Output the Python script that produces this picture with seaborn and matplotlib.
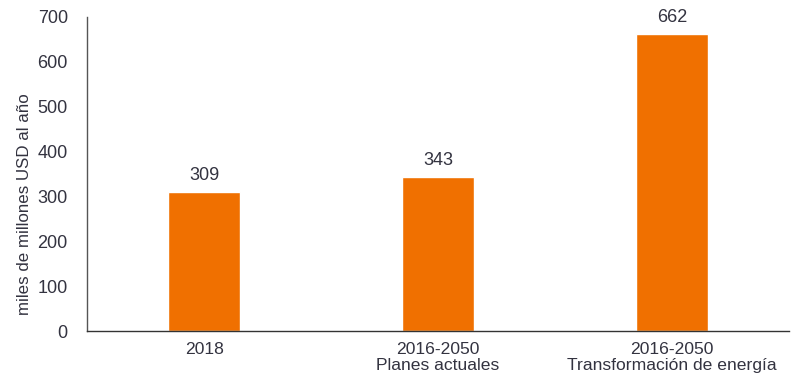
import matplotlib
matplotlib.use('Agg')
import matplotlib.pyplot as plt
import seaborn as sns
import pandas as pd

# datos del gráfico
categorias = ['2018', '2016-2050\nPlanes actuales', '2016-2050\nTransformación de energía']
valores = [309, 343, 662]
y_ticks = [0, 100, 200, 300, 400, 500, 600, 700]

COLOR_BAR = '#F07000'
COLOR_TEXT = '#333340'
FS = 13

sns.set_style('white')
plt.rcParams['font.family'] = ['Liberation Sans', 'DejaVu Sans']

df = pd.DataFrame({'cat': categorias, 'val': valores})

fig = plt.figure(figsize=(8, 3.82), dpi=100)
ax = fig.add_axes([0.109, 0.1335, 0.877, 0.822])
sns.barplot(data=df, x='cat', y='val', color=COLOR_BAR, width=0.31,
            saturation=1, ax=ax)

for p, v in zip(ax.patches, valores):
    ax.annotate(str(v), (p.get_x() + p.get_width() / 2, v),
                xytext=(0, 6), textcoords='offset points',
                ha='center', va='bottom', fontsize=FS, color=COLOR_TEXT)

ax.set_ylim(0, 700)
ax.set_yticks(y_ticks)
ax.set_xlim(-0.5, 2.5)
ax.set_xlabel('')
ax.set_ylabel('miles de millones USD al año', fontsize=12.2, color=COLOR_TEXT)
ax.yaxis.set_label_coords(-0.078, 0.404)
ax.tick_params(axis='both', labelsize=FS, colors=COLOR_TEXT, length=0)
ax.tick_params(axis='y', pad=14)
ax.tick_params(axis='x', pad=8)
ax.set_xticklabels(categorias, linespacing=1.1, fontsize=12.6)

for s in ['top', 'right']:
    ax.spines[s].set_visible(False)
ax.spines['left'].set_color('#555555')
ax.spines['bottom'].set_color('#333333')
ax.spines['left'].set_linewidth(1)
ax.spines['bottom'].set_linewidth(1)

fig.savefig('out.png', dpi=100)
